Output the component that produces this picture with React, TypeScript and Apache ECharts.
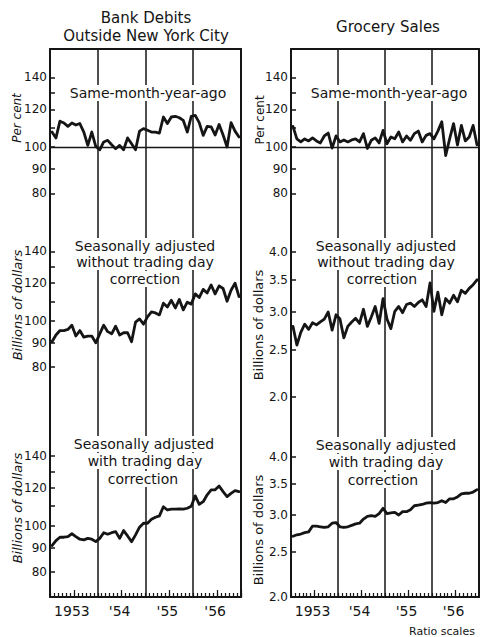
import React, { useEffect, useRef } from 'react';
import * as echarts from 'echarts';

// ---------- data ----------
const years = ['1953', '1954', '1955', '1956'];
const monthNames = ['Jan', 'Feb', 'Mar', 'Apr', 'May', 'Jun', 'Jul', 'Aug', 'Sep', 'Oct', 'Nov', 'Dec'];
const yearLabels = ['1953', "'54", "'55", "'56"];
const categories = years.flatMap((y) => monthNames.map((m) => `${m} ${y}`));

// Bank debits outside NYC, same-month-year-ago (per cent)
const bankYoY = [107.5, 104.5, 113.3, 112.3, 110.5, 112.3, 111.2, 112, 107.5, 100.8, 107.5, 100.3,
  98.7, 102.5, 103.3, 101.1, 99.2, 100.8, 98.7, 104.5, 101.6, 98.7, 108, 109.3,
  108.4, 107.5, 107.5, 107, 115.6, 112, 115.6, 116, 115.2, 113.7, 107.5, 116,
  116.5, 112.5, 105.8, 110.5, 110.2, 106, 111.5, 106, 100, 112.5, 108, 105];
// Grocery sales, same-month-year-ago (per cent)
const groceryYoY = [110.5, 104, 102.5, 104, 103, 104.5, 103, 102, 105.5, 107, 99.5, 105.5,
  102.5, 103.5, 102.5, 103.5, 104, 102.5, 106.7, 99.3, 103.3, 104.5, 102, 108.4,
  101.6, 105, 104.1, 107.5, 102.5, 105.5, 103.3, 106.7, 108, 102.5, 105.8, 106.7,
  104, 108, 113, 96, 104, 112, 101, 111, 103, 105, 111, 101];
// Bank debits, seasonally adjusted without trading day correction (billions of dollars)
const bankSA = [90.5, 93.5, 95.5, 95.5, 96, 98, 93, 95.5, 92.5, 93, 93, 90,
  94, 98, 95, 94, 97.5, 93.5, 94.5, 94.5, 90.5, 99.5, 101, 98.5,
  102, 104.5, 104, 103, 109, 107, 110.5, 106.5, 111, 105.5, 109.5, 108.5,
  114, 112, 116.5, 114.5, 119, 114, 118.5, 117, 110, 116, 120, 112.5];
// Grocery sales, seasonally adjusted without trading day correction (billions of dollars)
const grocerySA = [2.8, 2.56, 2.72, 2.83, 2.76, 2.85, 2.82, 2.86, 2.9, 3.0, 2.75, 2.96,
  2.9, 2.65, 2.8, 2.86, 2.91, 2.84, 3.04, 2.8, 2.93, 3.08, 2.84, 3.2,
  2.9, 2.77, 3.01, 3.08, 2.99, 3.11, 3.13, 3.08, 3.14, 3.18, 3.08, 3.45,
  3.01, 3.3, 2.96, 3.2, 3.13, 3.25, 3.15, 3.33, 3.28, 3.36, 3.42, 3.5];
// Bank debits, seasonally adjusted with trading day correction
const bankTD = [91, 93.2, 94.7, 94.7, 95, 96.3, 95, 93.8, 93.5, 94.2, 93.8, 92.7,
  94.2, 96.8, 96.1, 96.8, 97.3, 94.2, 97.8, 95.3, 92.7, 95.8, 99.4, 101.3,
  101.3, 103.3, 104.3, 105, 109.7, 108, 108.4, 108.4, 108.6, 108.4, 108.9, 110,
  115.6, 111, 112.4, 116.2, 119, 119, 121.2, 118, 115.2, 117, 118.6, 118];
// Grocery sales, seasonally adjusted with trading day correction
const groceryTD = [2.7, 2.72, 2.73, 2.75, 2.76, 2.84, 2.84, 2.83, 2.82, 2.83, 2.88, 2.89,
  2.83, 2.82, 2.83, 2.85, 2.87, 2.88, 2.94, 2.98, 2.99, 2.98, 3.02, 3.1,
  3.02, 3.03, 3.04, 3.0, 3.05, 3.05, 3.08, 3.14, 3.15, 3.16, 3.18, 3.19,
  3.18, 3.19, 3.22, 3.19, 3.25, 3.25, 3.28, 3.33, 3.34, 3.34, 3.36, 3.4];

const percentTicks = [80, 90, 100, 110, 120, 130, 140];
const percentLabels = [80, 90, 100, 120, 140];
const billionTicks = [80, 90, 100, 110, 120, 130, 140];
const billionLabels = [80, 90, 100, 120, 140];
const groceryTicks = [2.0, 2.5, 3.0, 3.5, 4.0];
const groceryLabels = [2.0, 2.5, 3.0, 3.5, 4.0];

// ---------- layout ----------
const INK = '#151515';
const FONT = 'DejaVu Sans';
const cols = [{ left: 50, width: 191 }, { left: 291, width: 188 }];
const rows = [{ top: 49, height: 161 }, { top: 210, height: 190 }, { top: 400, height: 197 }];

type Panel = {
  col: number; row: number; data: number[]; ticks: number[]; labels: number[];
  range: [number, number]; decimals: number; ref100?: boolean;
};
const panels: Panel[] = [
  { col: 0, row: 0, data: bankYoY, ticks: percentTicks, labels: percentLabels, range: [73.8, 160.5], decimals: 0, ref100: true },
  { col: 0, row: 1, data: bankSA, ticks: billionTicks, labels: billionLabels, range: [68.3, 170.9], decimals: 0 },
  { col: 0, row: 2, data: bankTD, ticks: billionTicks, labels: billionLabels, range: [71.0, 183.5], decimals: 0 },
  { col: 1, row: 0, data: groceryYoY, ticks: percentTicks, labels: percentLabels, range: [73.8, 160.5], decimals: 0, ref100: true },
  { col: 1, row: 1, data: grocerySA, ticks: groceryTicks, labels: groceryLabels, range: [1.967, 4.893], decimals: 1 },
  { col: 1, row: 2, data: groceryTD, ticks: groceryTicks, labels: groceryLabels, range: [2.0, 5.296], decimals: 1 },
];

const frameLine = { color: INK, width: 2 };

function buildOption() {
  const grid = panels.map((p) => ({
    left: cols[p.col].left, top: rows[p.row].top,
    width: cols[p.col].width, height: rows[p.row].height,
    show: false, outerBoundsMode: 'none',
  }));

  const xAxis: any[] = panels.map((p, g) => ({
    type: 'category', gridIndex: g, data: categories, boundaryGap: true,
    position: p.row === 0 ? 'top' : 'bottom',
    axisLine: { show: p.row !== 1, onZero: false, lineStyle: frameLine },
    axisTick: p.row === 2
      ? { show: true, inside: true, interval: 0, length: 4, lineStyle: { color: INK, width: 1.2 } }
      : { show: false },
    axisLabel: p.row === 2
      ? {
        show: true, interval: (i: number) => i % 12 === 5,
        formatter: (_v: string, i: number) => yearLabels[Math.floor(i / 12)],
        fontFamily: FONT, fontSize: 14, color: INK, margin: 7,
      }
      : { show: false },
    splitLine: {
      show: true, interval: (i: number) => i % 12 === 0 && i > 0,
      lineStyle: { color: INK, width: 1.5 },
    },
  }));
  // taller mid-year ticks on the bottom axes
  panels.forEach((p, g) => {
    if (p.row !== 2) return;
    xAxis.push({
      type: 'category', gridIndex: g, data: categories, boundaryGap: true, position: 'bottom',
      axisLine: { show: false, onZero: false },
      axisTick: { show: true, inside: true, interval: (i: number) => i % 12 === 6, length: 7, lineStyle: { color: INK, width: 1.2 } },
      axisLabel: { show: false }, splitLine: { show: false },
    });
  });

  const yAxis: any[] = panels.map((p, g) => ({
    type: 'log', logBase: 10, gridIndex: g, min: p.range[0], max: p.range[1],
    axisLine: { show: true, onZero: false, lineStyle: frameLine },
    axisTick: { show: true, inside: true, length: 5, customValues: p.ticks, lineStyle: { color: INK, width: 1.5 } },
    axisLabel: {
      show: true, customValues: p.labels, margin: 3,
      formatter: (v: number) => Number(v).toFixed(p.decimals),
      fontFamily: FONT, fontSize: 12, color: INK,
    },
    splitLine: { show: false },
  }));
  panels.forEach((_p, g) => {
    yAxis.push({
      type: 'value', gridIndex: g, position: 'right', min: 0, max: 1,
      axisLine: { show: true, onZero: false, lineStyle: frameLine },
      axisTick: { show: false }, axisLabel: { show: false }, splitLine: { show: false },
    });
  });

  const series = panels.map((p, g) => ({
    type: 'line', xAxisIndex: g, yAxisIndex: g, data: p.data,
    showSymbol: false, symbol: 'none',
    lineStyle: { color: INK, width: 2.8, cap: 'round', join: 'round' },
    z: 3,
    markLine: p.ref100 ? {
      silent: true, symbol: ['none', 'none'], label: { show: false },
      lineStyle: { color: INK, width: 1.3, type: 'solid' },
      data: [{ yAxis: 100 }],
    } : undefined,
  }));

  const txt = (text: string, x: number, y: number, size: number, extra: any = {}) => ({
    type: 'text', x, y, z: 50,
    style: {
      text, fill: INK, fontFamily: FONT, fontSize: size,
      align: 'center', verticalAlign: 'middle', textAlign: 'center', textVerticalAlign: 'middle',
      ...extra,
    },
  });
  const boxed = { backgroundColor: '#ffffff', padding: [1, 3] };
  const vName = (text: string, x: number, y: number, size: number, italic: boolean) => ({
    type: 'text', x, y, rotation: Math.PI / 2, z: 50,
    style: {
      text, fill: INK, fontFamily: FONT, fontSize: size, fontStyle: italic ? 'italic' : 'normal',
      align: 'center', verticalAlign: 'middle', textAlign: 'center', textVerticalAlign: 'middle',
    },
  });

  const graphic = [
    txt('Bank Debits', 146, 18, 15),
    txt('Outside New York City', 146, 36, 15),
    txt('Grocery Sales', 388, 27, 15),
    txt('Same-month-year-ago', 148, 93, 14, boxed),
    txt('Same-month-year-ago', 389, 93, 14, boxed),
    txt('Seasonally adjusted', 145, 246, 14, boxed),
    txt('without trading day', 145, 262, 14, boxed),
    txt('correction', 145, 279, 14, boxed),
    txt('Seasonally adjusted', 386, 246, 14, boxed),
    txt('without trading day', 386, 262, 14, boxed),
    txt('correction', 382, 279, 14, boxed),
    txt('Seasonally adjusted', 144, 444, 14, boxed),
    txt('with trading day', 145, 461, 14, boxed),
    txt('correction', 143, 479, 14, boxed),
    txt('Seasonally adjusted', 386, 445, 14, boxed),
    txt('with trading day', 386, 462, 14, boxed),
    txt('correction', 383, 480, 14, boxed),
    vName('Per cent', 17, 118, 12, true),
    vName('Billions of dollars', 17, 305, 13, true),
    vName('Billions of dollars', 17, 508, 13, true),
    vName('Per cent', 260, 120, 12, false),
    vName('Billions of dollars', 258, 325, 13, false),
    vName('Billions of dollars', 258, 530, 13, false),
    txt('Ratio scales', 442, 631, 11),
  ];

  return {
    animation: false,
    backgroundColor: '#ffffff',
    textStyle: { fontFamily: FONT },
    grid, xAxis, yAxis, series, graphic,
  };
}

export default function App() {
  const ref = useRef<HTMLDivElement>(null);
  useEffect(() => {
    if (!ref.current) return;
    const chart = echarts.init(ref.current, null, { renderer: 'svg' });
    chart.setOption(buildOption() as any);
    return () => chart.dispose();
  }, []);
  return (
    <div
      ref={ref}
      style={{ position: 'absolute', left: 0, top: 0, width: 480, height: 637, background: '#fff' }}
    />
  );
}
